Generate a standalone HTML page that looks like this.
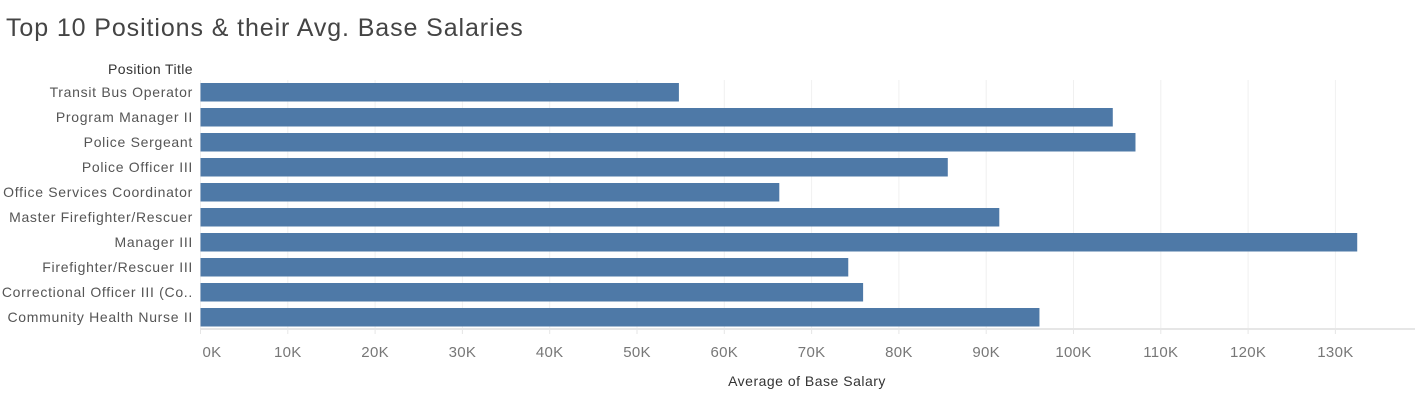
<!DOCTYPE html>
<html><head><meta charset="utf-8"><style>
body{margin:0;background:#fff;width:1415px;height:400px;overflow:hidden;font-family:"Liberation Sans",sans-serif}
svg text{font-family:"Liberation Sans",sans-serif}
</style></head><body>
<svg id="c" width="1415" height="400">
<text x="6" y="36" font-size="25" fill="#444" letter-spacing="0.9">Top 10 Positions &amp; their Avg. Base Salaries</text>
<text x="193" y="74" font-size="14" fill="#333" letter-spacing="0.4" text-anchor="end">Position Title</text>
<text x="807" y="386" font-size="14" fill="#333" letter-spacing="0.5" text-anchor="middle">Average of Base Salary</text>
</svg>
<script>
const categories=["Transit Bus Operator","Program Manager II","Police Sergeant","Police Officer III","Office Services Coordinator","Master Firefighter/Rescuer","Manager III","Firefighter/Rescuer III","Correctional Officer III (Co..","Community Health Nurse II"];
const salaries=[54800,104500,107100,85600,66300,91500,132500,74200,75900,96100];
const ticks=[0,10000,20000,30000,40000,50000,60000,70000,80000,90000,100000,110000,120000,130000];
const tickLabels=["0K","10K","20K","30K","40K","50K","60K","70K","80K","90K","100K","110K","120K","130K"];
const svg=document.getElementById('c');const NS='http://www.w3.org/2000/svg';
const x=v=>200.5+v*87.3/10000;
const yTop=i=>83+25*i;
function mk(t,a){const e=document.createElementNS(NS,t);for(const k in a)e.setAttribute(k,a[k]);svg.appendChild(e);return e;}
ticks.forEach((t,i)=>{
 const g=mk('line',{x1:x(t),x2:x(t),y1:80,y2:329,stroke:'#f0f0f0','stroke-width':1});
 
 
 const tk=mk('line',{x1:x(t),x2:x(t),y1:329,y2:334,stroke:'#e6e6e6'});
 
 
 const l=mk('text',{x:i===0?x(t)+2:x(t),y:357,'font-size':15,fill:'#777','letter-spacing':0.3,'text-anchor':i===0?'start':'middle'});
 l.textContent=tickLabels[i];
 
 
});
const ax=mk('line',{x1:200,x2:1415,y1:329,y2:329,stroke:'#e6e6e6','stroke-width':2});


categories.forEach((c,i)=>{
 const r=mk('rect',{x:x(0),y:yTop(i),width:x(salaries[i])-x(0),height:18.5,fill:'#4e79a7'});
 
 
 const l=mk('text',{x:193,y:yTop(i)+14,'font-size':14,fill:'#555','letter-spacing':0.7,'text-anchor':'end'});
 l.textContent=c;
 
 
});
</script>
</body></html>
